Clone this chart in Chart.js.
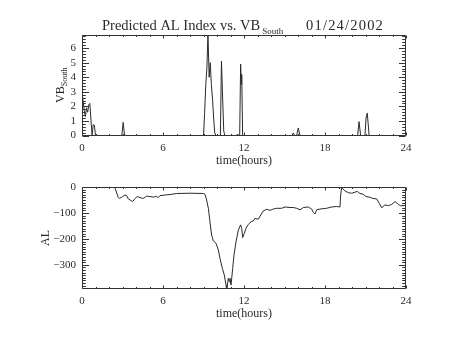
<!DOCTYPE html>
<html>
<head>
<meta charset="utf-8">
<script src="https://cdn.jsdelivr.net/npm/chart.js@4"></script>
<style>
  html, body { margin: 0; padding: 0; background: #fff; }
  #wrap { position: relative; width: 454px; height: 341px; }
  canvas { position: absolute; left: 0; }
  #top { top: 0; }
  #bottom { top: 170px; }
</style>
</head>
<body>
<div id="wrap">
  <canvas id="top" width="454" height="170"></canvas>
  <canvas id="bottom" width="454" height="171"></canvas>
</div>
<script>
// hours of the day, VB_south (top) and predicted AL index (bottom)
const hourRange = [0, 24];
const hourTicks = [0, 6, 12, 18, 24];
const vbTicks = [0, 1, 2, 3, 4, 5, 6];
const alTicks = [-300, -200, -100, 0];
const vbTime = [0, 0.08, 0.17, 0.25, 0.33, 0.42, 0.5, 0.58, 0.67, 0.75, 0.83, 0.92, 1.0,
  2.95, 3.05, 3.15,
  9.0, 9.08, 9.17, 9.25, 9.33, 9.42, 9.5, 9.58, 9.67, 9.75, 9.83, 9.92,
  10.25, 10.33, 10.42, 10.5, 10.58,
  11.45, 11.53, 11.6, 11.68, 11.75, 11.8, 11.83, 11.9,
  15.55, 15.65, 15.75, 15.9, 16.02, 16.15,
  20.42, 20.52, 20.64, 20.96, 21.04, 21.13, 21.27,
  24];
const vbSouth = [2.9, 2.4, 1.7, 1.3, 1.9, 1.6, 2.1, 2.2, 1.0, 0, 0.75, 0.7, 0,
  0, 0.9, 0,
  0, 1.5, 3.5, 4.6, 7.0, 4.0, 5.0, 3.5, 2.5, 1.2, 0.2, 0,
  0, 5.1, 2.5, 0.3, 0,
  0, 0.1, 0, 0, 4.9, 3.5, 4.2, 0,
  0, 0.18, 0, 0, 0.52, 0,
  0, 0.95, 0, 0, 1.2, 1.54, 0,
  0];
const alTime = [2.42, 2.69, 2.78, 3.01, 3.19, 3.31, 3.43, 3.56, 3.75, 3.93, 4.1, 4.3, 4.54, 4.79, 5.04, 5.28, 5.53, 5.65, 5.78, 6.15, 6.52, 7.01, 8.0, 8.99, 9.11,
  9.23, 9.36, 9.48, 9.6, 9.73, 9.93, 10.1, 10.22, 10.4, 10.54, 10.67, 10.72, 10.84, 10.91, 10.96, 11.04, 11.16, 11.26, 11.41, 11.58,
  11.75, 11.83, 11.9, 12.02, 12.15, 12.32, 12.52, 12.69, 12.81, 13.06, 13.24, 13.43, 13.68, 13.93, 14.17, 14.42, 14.79, 15.04,
  15.41, 15.65, 15.9, 16.15, 16.4, 16.77, 17.01, 17.14, 17.26, 17.38, 17.63, 18.12, 18.5, 18.86, 19.11, 19.16, 19.23, 19.48, 19.73, 19.98,
  20.22, 20.4, 20.59, 20.84, 21.04, 21.28, 21.53, 21.83, 22.02, 22.2, 22.44, 22.69, 22.94, 23.19, 23.43, 23.6, 23.85, 24.0];
const alValue = [0, -41, -44, -37, -31, -33, -46, -50, -56, -44, -37, -41, -44, -35, -37, -39, -36, -41, -33, -31, -29, -25, -24, -25, -28,
  -50, -82, -134, -185, -208, -217, -243, -275, -314, -339, -378, -396, -352, -365, -352, -378, -314, -262, -211, -166,
  -146, -159, -195, -179, -159, -144, -134, -131, -121, -124, -108, -92, -86, -90, -85, -82, -82, -77,
  -79, -79, -82, -88, -79, -77, -85, -98, -104, -88, -85, -82, -77, -75, -77, -31, -2, -15, -22, -24,
  -20, -17, -25, -28, -37, -39, -44, -46, -63, -80, -69, -72, -67, -56, -67, -72, -72, -69];

const SERIF = "'Liberation Serif', 'DejaVu Serif', serif";
const INK = "#2a2a2a";

// IDL-style box with inward major/minor ticks on all four sides
const framePlugin = {
  id: "frame",
  afterDatasetsDraw(chart, args, o) {
    const { ctx, chartArea: a, scales: { x, y } } = chart;
    const L = Math.round(a.left) + 0.5, R = Math.round(a.right) - 0.5;
    const T = Math.round(a.top) + 0.5, B = Math.round(a.bottom) - 0.5;
    ctx.save();
    ctx.strokeStyle = "#333";
    ctx.lineWidth = 1;
    ctx.beginPath();
    ctx.rect(L, T, R - L, B - T);
    for (let h = 0; h <= 24; h++) {
      const px = Math.round(x.getPixelForValue(h)) + 0.5;
      const len = h % 6 === 0 ? 3 : 1.5;
      ctx.moveTo(px, B); ctx.lineTo(px, B - len);
      ctx.moveTo(px, T); ctx.lineTo(px, T + len);
    }
    for (let i = Math.ceil(y.min / o.minor); i * o.minor <= y.max + 1e-9; i++) {
      const v = i * o.minor;
      const q = v / o.major;
      const len = Math.abs(q - Math.round(q)) < 1e-6 ? 6.5 : 3.3;
      const py = Math.round(y.getPixelForValue(v)) + 0.5;
      ctx.moveTo(L, py); ctx.lineTo(L + len, py);
      ctx.moveTo(R, py); ctx.lineTo(R - len, py);
    }
    ctx.stroke();
    ctx.restore();
  }
};

// titles with subscripts, drawn relative to the chart area
const labelPlugin = {
  id: "labels",
  afterDraw(chart, args, o) {
    const { ctx, chartArea: a } = chart;
    ctx.save();
    ctx.fillStyle = INK;
    ctx.textBaseline = "alphabetic";
    ctx.textAlign = "left";
    if (o.title) {
      ctx.font = "14.5px " + SERIF;
      ctx.fillText(o.title, 102, 30);
      const w = ctx.measureText(o.title).width;
      ctx.font = "9px " + SERIF;
      ctx.fillText("South", 102 + w + 2, 34);
      ctx.font = "14.5px " + SERIF;
      ctx.letterSpacing = "1.2px";
      ctx.fillText(o.date, 306, 30);
      ctx.letterSpacing = "0px";
    }
    ctx.textAlign = "center";
    ctx.textBaseline = "middle";
    ctx.font = "12px " + SERIF;
    ctx.fillText("time(hours)", (a.left + a.right) / 2, a.bottom + 25);
    const cy = (a.top + a.bottom) / 2;
    ctx.translate(o.yLabelX, cy);
    ctx.rotate(-Math.PI / 2);
    ctx.textBaseline = "alphabetic";
    ctx.textAlign = "left";
    ctx.font = "12px " + SERIF;
    const main = ctx.measureText(o.yLabel).width;
    let sub = 0;
    if (o.ySub) {
      ctx.font = "8px " + SERIF;
      sub = ctx.measureText(o.ySub).width;
    }
    const start = -(main + sub) / 2;
    ctx.font = "12px " + SERIF;
    ctx.fillText(o.yLabel, start, 0);
    if (o.ySub) {
      ctx.font = "8px " + SERIF;
      ctx.fillText(o.ySub, start + main, 3);
    }
    ctx.restore();
  }
};

function makeChart(id, xs, ys, yMin, yMax, yTicks, major, minor, pad, labels) {
  return new Chart(document.getElementById(id), {
    type: "line",
    data: {
      datasets: [{
        data: xs.map((t, i) => ({ x: t, y: ys[i] })),
        borderColor: INK, borderWidth: 1, pointRadius: 0, tension: 0, fill: false
      }]
    },
    options: {
      responsive: false,
      animation: false,
      layout: { padding: pad },
      plugins: {
        legend: { display: false },
        tooltip: { enabled: false },
        frame: { major, minor },
        labels
      },
      scales: {
        x: {
          type: "linear", min: hourRange[0], max: hourRange[1],
          afterFit: (s) => { s.height = 30; },
          afterBuildTicks: (s) => { s.ticks = hourTicks.map((v) => ({ value: v })); },
          ticks: { color: INK, font: { family: SERIF, size: 11 }, padding: 6, maxRotation: 0 },
          grid: { display: false, drawTicks: false }, border: { display: false }
        },
        y: {
          min: yMin, max: yMax,
          afterFit: (s) => { s.width = 40; },
          afterBuildTicks: (s) => { s.ticks = yTicks.map((v) => ({ value: v })); },
          ticks: {
            color: INK, font: { family: SERIF, size: 11 }, padding: 6,
            callback: (v) => String(v).replace("-", "\u2212")
          },
          grid: { display: false, drawTicks: false }, border: { display: false }
        }
      }
    },
    plugins: [framePlugin, labelPlugin]
  });
}

makeChart("top", vbTime, vbSouth, 0, 6.9, vbTicks, 1, 0.2,
  { left: 42, right: 48, top: 35, bottom: 4.5 },
  { title: "Predicted AL Index vs. VB", date: "01/24/2002", yLabel: "VB", ySub: "South", yLabelX: 64 });
makeChart("bottom", alTime, alValue, -393, 0, alTicks, 100, 10,
  { left: 42, right: 48, top: 17, bottom: 22 },
  { yLabel: "AL", ySub: "", yLabelX: 49 });
</script>
</body>
</html>
